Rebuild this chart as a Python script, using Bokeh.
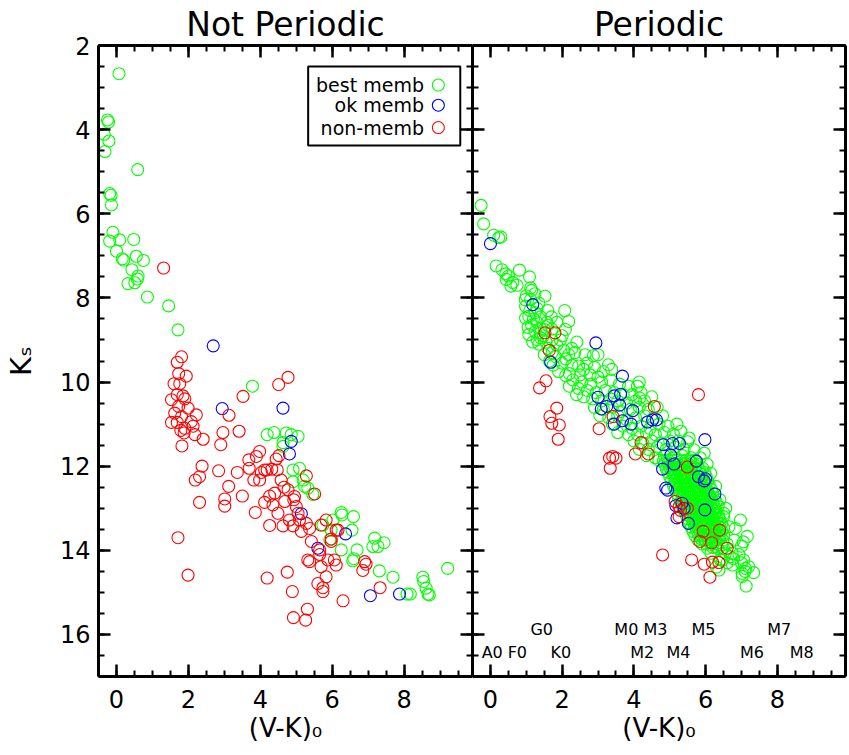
from bokeh.plotting import figure
from bokeh.models import (Range1d, SingleIntervalTicker, LinearAxis, Label,
                          BoxAnnotation, CustomJSTickFormatter, ColumnDataSource)
from bokeh.layouts import row
from bokeh.embed import file_html
from bokeh.resources import INLINE
from bokeh.core.properties import value

# ------------------------------------------------------------------ data
# ---- "Not Periodic" panel
np_best_vk = [0.07, -0.25, -0.22, -0.34, -0.21, -0.32, 0.59, -0.19, -0.15, -0.14,
              -0.10, -0.19, 0.09, 0.48, 0.00, 0.16, 0.20, 0.55, 0.75, 0.43,
              0.60, 0.58, 0.32, 0.51, 0.86, 1.45, 1.71, 3.78,
              4.19, 4.38, 4.72, 4.86, 5.05, 4.63, 4.91, 5.09, 4.91, 5.19,
              5.32, 5.46, 6.25, 6.27, 6.59, 6.02, 5.74, 5.97, 6.55, 5.93,
              6.25, 6.57, 6.60, 6.69, 7.18, 7.13, 7.27, 7.44, 7.31, 7.69,
              8.08, 8.17, 8.52, 8.54, 8.61, 8.66, 8.70, 9.21, 4.63, 5.23]
np_best_ks = [2.67, 3.77, 3.82, 4.11, 4.27, 4.52, 4.95, 5.52, 5.56, 5.79,
              6.44, 6.65, 6.62, 6.61, 6.89, 7.07, 7.10, 7.01, 7.11, 7.33,
              7.48, 7.55, 7.66, 7.64, 7.98, 8.19, 8.76, 10.10,
              11.25, 11.20, 11.21, 11.25, 11.29, 11.53, 12.09, 12.05, 12.37, 12.33,
              12.52, 12.67, 13.10, 13.16, 13.20, 13.28, 13.40, 13.52, 13.52, 13.75,
              13.99, 14.25, 14.20, 13.99, 13.71, 13.91, 13.91, 13.82, 14.49, 14.64,
              15.04, 15.04, 14.64, 14.74, 14.90, 15.04, 15.06, 14.43, 11.44, 12.48]

np_ok_vk = [2.69, 2.94, 4.63, 4.86, 4.81, 5.14, 6.37, 5.60, 7.06, 7.87]
np_ok_ks = [9.14, 10.63, 10.62, 11.41, 11.71, 13.13, 13.61, 13.95, 15.08, 15.04]

np_non_vk = [1.31, 1.81, 1.69, 1.73, 1.94, 1.60, 1.76, 1.69, 1.85, 1.53,
             1.90, 1.73, 1.99, 1.62, 2.22, 1.81, 1.53, 1.69, 2.08, 1.90,
             1.79, 2.13, 2.18, 1.88, 2.41, 1.82, 2.96, 2.90, 3.41, 3.52,
             3.13, 4.51, 4.77,
             2.38, 2.31, 2.19, 2.84, 3.36, 3.12, 2.31, 3.01, 3.01, 3.50,
             3.86, 4.26, 3.68, 3.89, 3.98, 3.69, 3.82, 3.98, 4.03, 4.19,
             4.32, 4.47, 4.44, 4.52, 4.58, 4.26, 4.40, 4.12, 4.35, 4.66,
             4.77, 4.95, 4.68, 5.00, 4.49, 4.81, 5.05, 4.63, 4.91, 1.71,
             5.28,
             1.99, 4.19, 4.75, 4.89, 4.92, 5.26, 5.31, 6.30, 7.33, 6.85,
             6.94, 6.90, 5.09, 5.28, 5.37, 5.69, 5.83, 6.16, 5.14, 5.42,
             5.65, 5.97, 5.32, 5.37, 5.65, 5.69, 5.88, 6.06, 6.11, 5.83,
             5.60, 5.74, 5.74, 5.97, 6.11, 5.51, 4.93, 4.12]
np_non_ks = [7.29, 9.40, 9.53, 9.80, 9.86, 10.04, 10.04, 10.30, 10.33, 10.42,
             10.40, 10.58, 10.62, 10.74, 10.78, 10.82, 10.96, 10.96, 10.94, 11.10,
             11.15, 11.05, 11.25, 11.21, 11.36, 11.52, 11.20, 11.49, 11.17, 10.34,
             10.79, 10.06, 9.89,
             12.00, 12.25, 12.33, 12.11, 12.15, 12.48, 12.86, 12.78, 12.95, 12.71,
             13.10, 13.41, 11.85, 11.77, 11.65, 12.05, 12.33, 12.33, 12.15, 12.09,
             12.07, 12.09, 11.83, 11.75, 12.33, 12.71, 12.64, 12.86, 12.92, 12.50,
             12.56, 12.72, 12.84, 12.96, 13.12, 13.28, 13.12, 13.42, 13.42, 13.70,
             12.23,
             14.59, 14.66, 14.52, 14.98, 15.60, 15.66, 15.40, 15.20, 14.89, 14.48,
             14.33, 14.27, 13.28, 13.36, 13.48, 13.40, 13.28, 13.52, 13.55, 13.79,
             13.99, 13.79, 14.23, 14.27, 14.10, 14.39, 14.23, 14.23, 14.35, 14.63,
             14.79, 14.89, 14.98, 13.73, 13.52, 12.66, 12.80, 12.09]

# ---- "Periodic" panel
per_best_vk = [
    # Ks < 8.2
    -0.26, -0.19, 0.09, 0.23, 0.29, 0.16, 0.32, 0.43, 0.50, 0.44, 0.62, 0.74,
    0.57, 0.81, 1.09, 1.12, 1.15, 1.24, 1.00, 0.97, 1.12, 1.52, 1.35, 0.98,
    # 8.2 - 9.0
    1.07, 0.98, 1.10, 1.30, 1.25, 1.60, 2.07, 1.40, 1.70, 1.20, 2.18, 1.85,
    1.57, 1.30, 1.15, 1.60, 1.05, 1.41, 1.50, 1.72, 2.09, 1.25, 1.07, 1.48,
    2.00, 1.40, 1.30, 1.72, 1.95,
    # 9.0 - 9.9
    1.18, 1.55, 2.41, 1.35, 1.85, 1.60, 2.27, 2.05, 1.72, 2.35, 2.64, 2.87,
    3.00, 2.18, 1.50, 1.81, 2.10, 1.65, 2.00, 2.69, 2.27, 2.46, 3.29, 1.75,
    3.38, 1.90, 2.20, 2.50, 2.78, 3.00, 2.10, 3.15, 2.60, 2.90,
    # 9.9 - 10.5
    2.30, 2.55, 2.80, 3.10, 3.35, 3.60, 3.85, 4.10, 4.15, 2.20, 2.45, 2.70,
    2.95, 3.20, 3.45, 3.70, 3.95, 4.20, 2.40, 2.60, 2.85, 3.10, 3.35, 3.55,
    3.80, 4.05, 4.30, 4.50, 4.16,
    # 10.5 - 11.3
    2.90, 3.15, 3.40, 3.65, 3.90, 4.15, 4.40, 4.65, 3.05, 3.30, 3.55, 3.80,
    4.05, 4.30, 4.55, 4.80, 3.40, 3.70, 3.95, 4.20, 4.45, 4.70, 4.95, 5.20,
    3.55, 3.85, 4.10, 4.35, 4.60, 4.85, 5.10, 5.31, 5.54,
    # 11.3 - 11.95
    4.00, 4.25, 4.50, 4.75, 5.00, 5.24, 5.50, 4.15, 4.40, 4.65, 4.90, 5.15,
    5.40, 5.68, 5.96, 4.35, 4.60, 4.85, 5.10, 5.35, 5.60, 5.85, 4.70, 4.82,
    4.95, 5.07, 5.20, 5.33, 5.45, 5.58, 5.70, 6.04,
    # dense core 11.95 - 13.95
    4.85, 4.96, 5.05, 5.16, 5.24, 5.35, 5.44, 5.55, 5.66, 5.78,
    4.90, 5.00, 5.11, 5.20, 5.31, 5.40, 5.50, 5.61, 5.70, 5.82, 5.92,
    4.95, 5.06, 5.15, 5.26, 5.35, 5.46, 5.55, 5.64, 5.75, 5.86, 5.97,
    5.00, 5.10, 5.20, 5.30, 5.41, 5.50, 5.60, 5.70, 5.81, 5.90, 6.02,
    5.04, 5.15, 5.25, 5.36, 5.45, 5.56, 5.65, 5.76, 5.85, 5.96, 6.06,
    5.10, 5.20, 5.30, 5.40, 5.50, 5.60, 5.70, 5.80, 5.90, 6.00, 6.10,
    5.15, 5.25, 5.36, 5.45, 5.55, 5.66, 5.75, 5.85, 5.95, 6.05, 6.16,
    5.20, 5.30, 5.40, 5.51, 5.60, 5.70, 5.80, 5.90, 6.00, 6.10, 6.20,
    5.24, 5.35, 5.45, 5.55, 5.65, 5.75, 5.86, 5.95, 6.05, 6.15, 6.25,
    5.30, 5.40, 5.50, 5.60, 5.70, 5.80, 5.90, 6.00, 6.10, 6.20, 6.30,
    5.35, 5.45, 5.55, 5.65, 5.76, 5.85, 5.95, 6.05, 6.15, 6.25, 6.35,
    5.40, 5.50, 5.60, 5.70, 5.80, 5.90, 6.00, 6.10, 6.20, 6.30,
    5.45, 5.55, 5.65, 5.75, 5.85, 5.95, 6.05, 6.15, 6.25, 6.36,
    5.50, 5.60, 5.70, 5.80, 5.90, 6.00, 6.10, 6.20, 6.30, 6.40,
    5.55, 5.65, 5.75, 5.85, 5.95, 6.05, 6.15, 6.25, 6.35, 6.45,
    5.60, 5.70, 5.80, 5.90, 6.00, 6.10, 6.20, 6.30, 6.40, 6.50,
    5.65, 5.75, 5.85, 5.95, 6.05, 6.15, 6.25, 6.35, 6.45,
    5.70, 5.80, 5.90, 6.00, 6.10, 6.20, 6.30, 6.40, 6.50,
    5.78, 5.88, 5.98, 6.08, 6.18, 6.28, 6.38, 6.48,
    5.90, 6.02, 6.15, 6.30, 6.45, 6.60,
    6.05, 6.20, 6.35, 6.50,
    # outer edge / faint tail
    6.14, 6.28, 6.40, 6.56, 6.51, 6.50, 6.97, 6.83, 6.65, 7.16, 6.80, 7.05,
    7.00, 6.28, 6.74, 6.55, 6.69, 6.93, 6.15, 6.78, 6.46, 7.06, 6.41, 6.60,
    7.00, 6.75, 7.20, 6.30, 7.11, 6.37, 7.10, 7.34, 7.02, 7.02, 7.13,
]
per_best_ks = [
    5.80, 6.24, 6.51, 6.57, 6.55, 7.24, 7.33, 7.43, 7.48, 7.56, 7.63, 7.70,
    7.72, 7.34, 7.50, 7.76, 7.82, 7.90, 7.95, 8.04, 8.04, 7.96, 8.12, 8.20,
    8.44, 8.48, 8.30, 8.25, 8.35, 8.30, 8.30, 8.45, 8.45, 8.50, 8.56, 8.58,
    8.58, 8.58, 8.65, 8.65, 8.70, 8.74, 8.75, 8.74, 8.75, 8.80, 8.87, 8.90,
    8.90, 8.95, 8.99, 9.00, 9.00,
    9.05, 9.05, 9.05, 9.10, 9.12, 9.20, 9.20, 9.25, 9.30, 9.30, 9.35, 9.37,
    9.35, 9.35, 9.35, 9.39, 9.45, 9.50, 9.55, 9.55, 9.60, 9.62, 9.59, 9.60,
    9.70, 9.75, 9.80, 9.83, 9.83, 9.88, 9.85, 9.75, 9.70, 9.65,
    9.95, 10.00, 10.05, 10.00, 9.95, 10.05, 10.10, 10.10, 10.00, 10.10, 10.15, 10.20,
    10.25, 10.20, 10.25, 10.30, 10.30, 10.25, 10.30, 10.35, 10.40, 10.45, 10.40, 10.45,
    10.50, 10.45, 10.45, 10.35, 10.38,
    10.60, 10.65, 10.60, 10.70, 10.65, 10.60, 10.65, 10.60, 10.80, 10.85, 10.80, 10.90,
    10.85, 10.80, 10.85, 10.80, 11.00, 11.05, 11.10, 11.05, 11.10, 11.00, 11.05, 11.00,
    11.20, 11.25, 11.25, 11.20, 11.25, 11.20, 11.24, 11.17, 11.33,
    11.40, 11.45, 11.40, 11.45, 11.40, 11.40, 11.42, 11.60, 11.60, 11.55, 11.60, 11.55,
    11.60, 11.61, 11.69, 11.75, 11.80, 11.75, 11.80, 11.75, 11.80, 11.80, 11.86, 11.88,
    11.85, 11.87, 11.85, 11.88, 11.86, 11.88, 11.86, 11.95,
    11.95, 11.93, 11.97, 11.94, 11.96, 11.95, 11.93, 11.97, 11.94, 11.96,
    12.05, 12.03, 12.06, 12.04, 12.07, 12.05, 12.03, 12.06, 12.04, 12.07, 12.05,
    12.15, 12.13, 12.16, 12.14, 12.17, 12.15, 12.13, 12.16, 12.14, 12.17, 12.15,
    12.25, 12.23, 12.26, 12.24, 12.27, 12.25, 12.23, 12.26, 12.24, 12.27, 12.25,
    12.35, 12.33, 12.36, 12.34, 12.37, 12.35, 12.33, 12.36, 12.34, 12.37, 12.35,
    12.45, 12.43, 12.46, 12.44, 12.47, 12.45, 12.43, 12.46, 12.44, 12.47, 12.45,
    12.55, 12.53, 12.56, 12.54, 12.57, 12.55, 12.53, 12.56, 12.54, 12.57, 12.55,
    12.65, 12.63, 12.66, 12.64, 12.67, 12.65, 12.63, 12.66, 12.64, 12.67, 12.65,
    12.75, 12.73, 12.76, 12.74, 12.77, 12.75, 12.73, 12.76, 12.74, 12.77, 12.75,
    12.85, 12.83, 12.86, 12.84, 12.87, 12.85, 12.83, 12.86, 12.84, 12.87, 12.85,
    12.95, 12.93, 12.96, 12.94, 12.97, 12.95, 12.93, 12.96, 12.94, 12.97, 12.95,
    13.05, 13.03, 13.06, 13.04, 13.07, 13.05, 13.03, 13.06, 13.04, 13.07,
    13.15, 13.13, 13.16, 13.14, 13.17, 13.15, 13.13, 13.16, 13.14, 13.17,
    13.25, 13.23, 13.26, 13.24, 13.27, 13.25, 13.23, 13.26, 13.24, 13.27,
    13.35, 13.33, 13.36, 13.34, 13.37, 13.35, 13.33, 13.36, 13.34, 13.37,
    13.45, 13.43, 13.46, 13.44, 13.47, 13.45, 13.43, 13.46, 13.44, 13.47,
    13.55, 13.53, 13.56, 13.54, 13.57, 13.55, 13.53, 13.56, 13.54,
    13.65, 13.63, 13.66, 13.64, 13.67, 13.65, 13.63, 13.66, 13.64,
    13.75, 13.73, 13.76, 13.74, 13.77, 13.75, 13.73, 13.76,
    13.85, 13.83, 13.86, 13.84, 13.87, 13.85,
    13.95, 13.93, 13.96, 13.94,
    12.17, 12.48, 12.80, 13.00, 13.12, 13.20, 13.28, 13.48, 13.44, 13.67, 13.76, 13.80,
    13.90, 13.91, 14.07, 14.07, 14.15, 14.10, 14.07, 14.20, 14.24, 14.23, 14.22, 14.30,
    14.30, 14.35, 14.39, 14.40, 14.43, 14.47, 14.50, 14.53, 14.55, 14.62, 14.85,
]

per_ok_vk = [0.00, 1.18, 2.94, 1.68, 3.68, 3.00, 3.09, 3.24, 3.45, 3.60,
             3.63, 3.97, 3.45, 3.68, 3.92, 4.38, 4.52, 4.63, 4.82, 5.08,
             5.27, 5.03, 5.12, 4.80, 5.74, 5.98, 5.80, 6.00, 5.96, 6.26,
             4.89, 4.94, 5.17, 5.40, 5.20, 5.52, 5.98, 5.34]
per_ok_ks = [6.71, 8.16, 9.07, 9.53, 9.86, 10.36, 10.64, 10.58, 10.33, 10.55,
             10.29, 10.68, 11.00, 10.92, 11.00, 10.95, 10.90, 10.90, 11.49, 11.46,
             11.46, 11.74, 11.95, 12.07, 11.88, 11.37, 12.25, 12.30, 12.35, 12.66,
             12.52, 12.57, 12.94, 13.00, 13.23, 13.36, 13.04, 12.88]

per_non_vk = [1.52, 1.80, 1.64, 1.55, 1.37, 1.85, 1.66, 1.71, 1.92, 1.89,
              3.03, 3.32, 3.41, 3.50, 3.34, 4.04, 4.20, 4.40, 4.57, 3.42,
              5.80, 5.49, 5.15, 5.26, 5.49, 5.26, 5.93, 5.84, 6.17, 6.39,
              6.60, 4.80, 5.61, 5.96, 6.19, 6.37, 6.12, 5.30]
per_non_ks = [8.83, 8.83, 9.25, 9.97, 10.14, 10.62, 10.82, 10.98, 11.02, 11.36,
              11.11, 11.81, 11.77, 11.81, 12.05, 11.71, 11.44, 11.71, 10.58, 10.82,
              10.30, 12.02, 12.84, 12.96, 13.00, 13.20, 13.55, 13.79, 13.82, 13.52,
              13.95, 14.11, 14.23, 14.33, 14.28, 14.29, 14.64, 13.05]

# spectral-type reference colours (V-K)0
spt_names = ["A0", "F0", "G0", "K0", "M0", "M2", "M3", "M4", "M5", "M6", "M7", "M8"]
spt_vk = [0.05, 0.75, 1.43, 1.96, 3.79, 4.23, 4.60, 5.24, 5.94, 7.29, 8.05, 8.68]
spt_upper = [False, False, True, False, True, False, True, False, True, False, True, False]

legend_names = ["best memb", "ok memb", "non-memb"]
panel_titles = ["Not Periodic", "Periodic"]
x_label = "(V-K)\u2080"
y_label = "K\u209b"

# ------------------------------------------------------------------ style
FONT = "DejaVu Sans"
FRAME_H = 631
GREEN, BLUE, RED = "#00ff00", "#0000ff", "#ff0000"


def style_axis(ax, show_labels, standoff=8):
    ax.ticker = SingleIntervalTicker(interval=2, num_minor_ticks=4)
    ax.axis_line_width = 3
    ax.axis_line_color = "black"
    ax.major_tick_in = 12
    ax.major_tick_out = 0
    ax.minor_tick_in = 6
    ax.minor_tick_out = 0
    ax.major_tick_line_width = 2.5
    ax.minor_tick_line_width = 2
    ax.major_tick_line_color = "black"
    ax.minor_tick_line_color = "black"
    if show_labels:
        ax.major_label_text_font = FONT
        ax.major_label_text_font_size = "24px"
        ax.major_label_text_color = "black"
        ax.major_label_standoff = standoff
    else:
        ax.formatter = CustomJSTickFormatter(code="return ''")
        ax.major_label_text_font_size = "1px"
        ax.major_label_standoff = 0


def make_panel(title, frame_w, border_left, border_right, show_y_labels):
    p = figure(frame_width=frame_w, frame_height=FRAME_H,
               x_range=Range1d(-0.5, 9.9), y_range=Range1d(17, 2),
               output_backend="svg", toolbar_location=None, title=title,
               min_border_left=border_left, min_border_right=border_right,
               min_border_top=43, min_border_bottom=79,
               background_fill_color="white", border_fill_color="white")
    p.outline_line_color = None
    p.xgrid.visible = False
    p.ygrid.visible = False
    p.title.align = "center"
    p.title.text_font = FONT
    p.title.text_font_size = "33px"
    p.title.text_font_style = "normal"
    p.title.text_color = "black"
    p.title.standoff = 4
    style_axis(p.xaxis[0], True, 13)
    style_axis(p.yaxis[0], show_y_labels, 8)
    p.xaxis[0].axis_label = x_label
    p.xaxis[0].axis_label_text_font = FONT
    p.xaxis[0].axis_label_text_font_size = "26px"
    p.xaxis[0].axis_label_text_font_style = "normal"
    p.xaxis[0].axis_label_text_color = "black"
    p.xaxis[0].axis_label_standoff = 2
    top = LinearAxis()
    style_axis(top, False)
    p.add_layout(top, "above")
    right = LinearAxis()
    style_axis(right, False)
    p.add_layout(right, "right")
    return p


def add_points(p, vk, ks, color):
    p.scatter(vk, ks, marker="circle", size=12, fill_color=None,
              line_color=color, line_width=1.1)


# ---- left panel
p1 = make_panel(panel_titles[0], 374, 97, 0, True)
p1.yaxis[0].axis_label = y_label
p1.yaxis[0].axis_label_text_font = FONT
p1.yaxis[0].axis_label_text_font_size = "29px"
p1.yaxis[0].axis_label_text_font_style = "normal"
p1.yaxis[0].axis_label_text_color = "black"
p1.yaxis[0].axis_label_standoff = 19
add_points(p1, np_best_vk, np_best_ks, GREEN)
add_points(p1, np_ok_vk, np_ok_ks, BLUE)
add_points(p1, np_non_vk, np_non_ks, RED)

# legend (box, right-aligned labels, symbol on the right)
p1.add_layout(BoxAnnotation(left=5.33, right=9.56, top=2.5, bottom=4.38,
                            fill_color=None, line_color="black", line_alpha=1.0,
                            line_width=2))
leg_rows = [2.94, 3.42, 3.95]
for name, ry in zip(legend_names, leg_rows):
    p1.add_layout(Label(x=8.55, y=ry, text=name, text_font=FONT, text_font_size="19px",
                        text_align="right", text_baseline="middle", text_color="black"))
leg_src = ColumnDataSource(dict(x=[8.95, 8.95, 8.95], y=leg_rows, c=[GREEN, BLUE, RED]))
p1.scatter("x", "y", source=leg_src, marker="circle", size=12, fill_color=None,
           line_color="c", line_width=1.1)

# ---- right panel
p2 = make_panel(panel_titles[1], 373, 0, 2, False)
add_points(p2, per_best_vk, per_best_ks, GREEN)
add_points(p2, per_ok_vk, per_ok_ks, BLUE)
add_points(p2, per_non_vk, per_non_ks, RED)
spt_src = ColumnDataSource(dict(x=spt_vk, y=[15.88 if u else 16.43 for u in spt_upper],
                                t=spt_names))
p2.text("x", "y", text="t", source=spt_src, text_font=value(FONT),
        text_font_size=value("16px"), text_align="center", text_baseline="middle",
        text_color="black")

layout = row(p1, p2)
open("out.html", "w").write(file_html(layout, INLINE))
